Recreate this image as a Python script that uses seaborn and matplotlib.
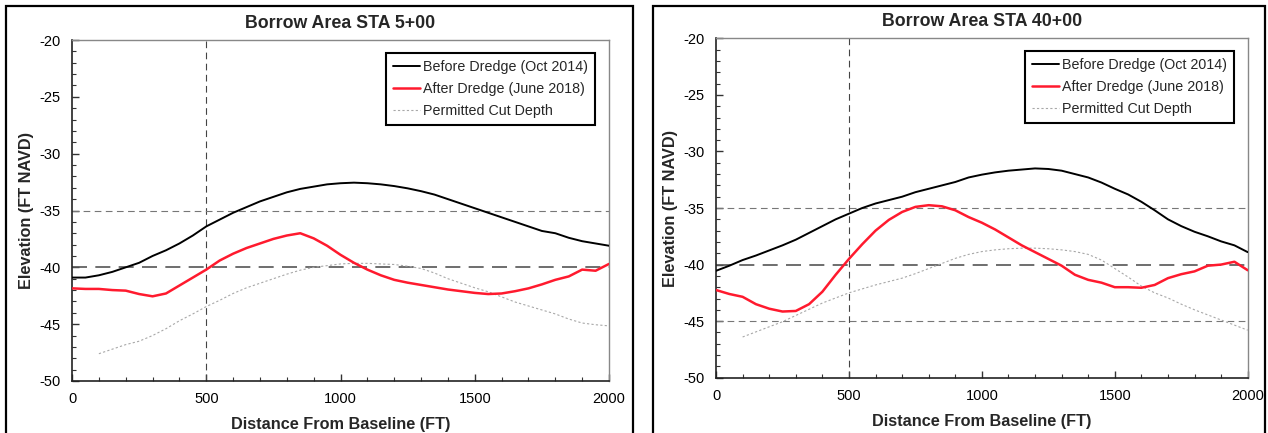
import numpy as np
import pandas as pd
import matplotlib
matplotlib.use("Agg")
import matplotlib.pyplot as plt
from matplotlib.patches import Rectangle
from matplotlib.ticker import MultipleLocator
import seaborn as sns

# distance from baseline (ft), same grid for every series
dist = list(range(0, 2001, 50))

# STA 5+00
sta5_before = [-40.9, -40.9, -40.7, -40.4, -40.0, -39.6, -39.0, -38.5, -37.9, -37.2,
               -36.4, -35.8, -35.2, -34.7, -34.2, -33.8, -33.4, -33.1, -32.9, -32.7,
               -32.6, -32.55, -32.6, -32.7, -32.85, -33.05, -33.3, -33.6, -34.0, -34.4,
               -34.8, -35.2, -35.6, -36.0, -36.4, -36.8, -37.0, -37.4, -37.7, -37.9, -38.1]
sta5_after = [-41.85, -41.9, -41.9, -42.0, -42.05, -42.35, -42.55, -42.3, -41.6, -40.9,
              -40.2, -39.4, -38.8, -38.3, -37.9, -37.5, -37.2, -37.0, -37.45, -38.1,
              -38.9, -39.6, -40.2, -40.7, -41.1, -41.35, -41.55, -41.75, -41.95, -42.1,
              -42.25, -42.35, -42.3, -42.1, -41.85, -41.5, -41.1, -40.8, -40.2, -40.3, -39.7]
sta5_permit = [np.nan, np.nan, -47.6, -47.2, -46.8, -46.5, -46.0, -45.4, -44.7, -44.1,
               -43.45, -42.9, -42.3, -41.8, -41.4, -41.0, -40.6, -40.25, -40.0, -39.85,
               -39.7, -39.65, -39.65, -39.7, -39.75, -39.9, -40.1, -40.5, -41.0, -41.4,
               -41.8, -42.15, -42.6, -43.05, -43.4, -43.75, -44.1, -44.55, -44.9, -45.05, -45.15]

# STA 40+00
sta40_before = [-40.55, -40.1, -39.6, -39.2, -38.75, -38.3, -37.8, -37.2, -36.6, -36.0,
                -35.5, -35.0, -34.6, -34.3, -34.0, -33.6, -33.3, -33.0, -32.7, -32.3,
                -32.05, -31.85, -31.7, -31.6, -31.5, -31.55, -31.7, -32.0, -32.3, -32.75,
                -33.3, -33.8, -34.45, -35.2, -36.0, -36.6, -37.1, -37.5, -37.95, -38.3, -38.9]
sta40_after = [-42.25, -42.6, -42.85, -43.5, -43.9, -44.15, -44.1, -43.5, -42.4, -40.9,
               -39.5, -38.2, -37.0, -36.05, -35.35, -34.9, -34.75, -34.85, -35.2, -35.8,
               -36.3, -36.9, -37.6, -38.3, -38.9, -39.5, -40.1, -40.9, -41.35, -41.6,
               -42.0, -42.0, -42.05, -41.8, -41.2, -40.85, -40.6, -40.1, -40.0, -39.75, -40.5]
sta40_permit = [np.nan, np.nan, -46.4, -45.95, -45.5, -45.05, -44.5, -43.95, -43.4, -42.95,
                -42.5, -42.15, -41.8, -41.5, -41.2, -40.8, -40.35, -39.9, -39.45, -39.1,
                -38.85, -38.7, -38.6, -38.55, -38.55, -38.6, -38.7, -38.85, -39.1, -39.6,
                -40.35, -41.1, -41.9, -42.5, -42.95, -43.5, -44.0, -44.45, -44.9, -45.35, -45.8]

titles = ["Borrow Area STA 5+00", "Borrow Area STA 40+00"]
ref_levels = [[-35, -40], [-35, -40, -45]]
labels = ["Before Dredge (Oct 2014)", "After Dredge (June 2018)", "Permitted Cut Depth"]

sns.set_style("white")
plt.rcParams["font.family"] = ["Liberation Sans", "DejaVu Sans"]
plt.rcParams["axes.unicode_minus"] = False

fig = plt.figure(figsize=(12.68, 4.33), dpi=100)
axes = [fig.add_axes([0.0568, 0.1201, 0.4235, 0.7875]),
        fig.add_axes([0.5647, 0.1277, 0.4193, 0.7838])]

# outer frames around each chart
for x0, w in [(0.0047, 0.4945), (0.515, 0.4826)]:
    fig.patches.append(Rectangle((x0, -0.05), w, 1.035, transform=fig.transFigure,
                                 fill=False, edgecolor="black", linewidth=1.6))

panels = [(sta5_before, sta5_after, sta5_permit), (sta40_before, sta40_after, sta40_permit)]

for ax, (before, after, permit), title, refs in zip(axes, panels, titles, ref_levels):
    df = pd.DataFrame({"dist": dist, "before": before, "after": after, "permit": permit})

    # reference grid lines
    ax.axvline(500, color="#444444", lw=0.8, dashes=(6, 4), zorder=1)
    for r in refs:
        if r == -40:
            ax.axhline(r, color="#555555", lw=1.2, dashes=(9, 5), zorder=1)
        else:
            ax.axhline(r, color="#777777", lw=0.8, dashes=(6, 4), zorder=1)

    sns.lineplot(data=df, x="dist", y="before", ax=ax, color="black", lw=1.4,
                 label=labels[0], zorder=4)
    sns.lineplot(data=df, x="dist", y="after", ax=ax, color="#ff1a2e", lw=1.8,
                 label=labels[1], zorder=3)
    sns.lineplot(data=df, x="dist", y="permit", ax=ax, color="#a8a8a8", lw=0.8,
                 dashes=(2, 2), label=labels[2], zorder=2)

    ax.set_xlim(0, 2000)
    ax.set_ylim(-50, -20)
    ax.xaxis.set_major_locator(MultipleLocator(500))
    ax.xaxis.set_minor_locator(MultipleLocator(100))
    ax.yaxis.set_major_locator(MultipleLocator(5))
    ax.yaxis.set_minor_locator(MultipleLocator(1))
    ax.tick_params(which="both", direction="in", left=True, bottom=True,
                   colors="#333333", labelcolor="black", labelsize=10.5)
    ax.tick_params(which="major", length=5, width=1, pad=8)
    ax.tick_params(which="minor", length=3, width=0.8)
    for side in ["left", "bottom"]:
        ax.spines[side].set_color("#222222")
        ax.spines[side].set_linewidth(1.2)
    for side in ["top", "right"]:
        ax.spines[side].set_color("#888888")
        ax.spines[side].set_linewidth(1.0)

    ax.set_title(title, fontsize=12.8, fontweight="bold", pad=9)
    ax.set_xlabel("Distance From Baseline (FT)", fontsize=11.7, fontweight="bold", labelpad=8)
    ax.set_ylabel("Elevation (FT NAVD)", fontsize=11.7, fontweight="bold", labelpad=4)

    leg = ax.legend(loc="upper right", bbox_to_anchor=(0.974, 0.962), fontsize=10.3,
                    fancybox=False, framealpha=1, edgecolor="black", handlelength=1.9,
                    handletextpad=0.2, borderpad=0.5, labelspacing=0.55, borderaxespad=0)
    leg.get_frame().set_linewidth(1.5)

fig.savefig("out.png", dpi=100)
